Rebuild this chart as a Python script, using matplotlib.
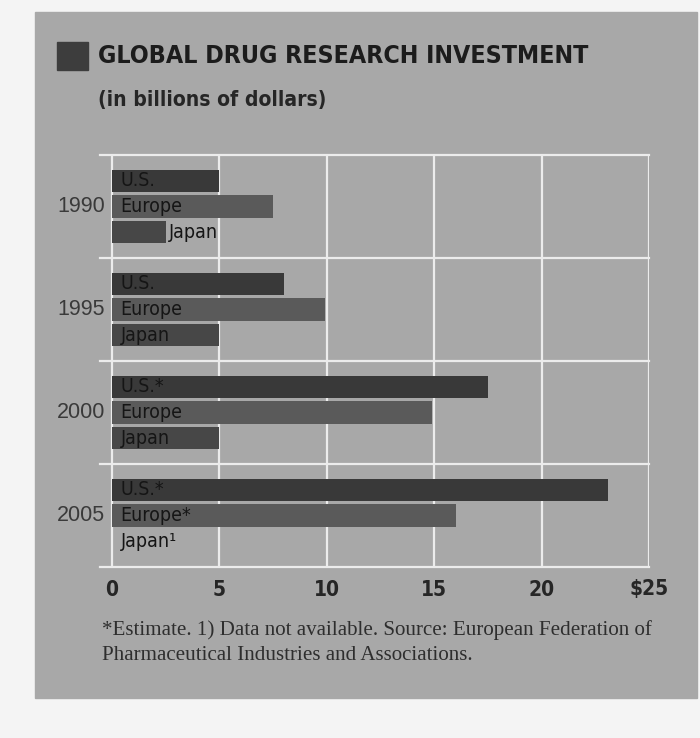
import numpy as np
import matplotlib
import matplotlib.pyplot as plt
from matplotlib.patches import Rectangle
from matplotlib import font_manager
from matplotlib.font_manager import FontProperties

matplotlib.use('Agg')

# investment per region, billions of dollars
years = ['1990', '1995', '2000', '2005']
us = [5.0, 8.0, 17.5, 23.1]
europe = [7.5, 9.9, 14.9, 16.0]
japan = [2.5, 5.0, 5.0, np.nan]  # 2005: data not available

us_labels = ['U.S.', 'U.S.', 'U.S.*', 'U.S.*']
europe_labels = ['Europe', 'Europe', 'Europe', 'Europe*']
japan_labels = ['Japan', 'Japan', 'Japan', 'Japan\u00b9']

xticks = [0, 5, 10, 15, 20, 25]
xtick_labels = ['0', '5', '10', '15', '20', r'\$25']

W, H = 700, 738


def has_font(**kw):
    try:
        path = font_manager.findfont(FontProperties(**kw), fallback_to_default=False)
    except ValueError:
        return None
    return path


# condensed face if one is installed, otherwise plain sans
cpath = has_font(family='DejaVu Sans', stretch='condensed', weight='bold')
if cpath and 'Condensed' in cpath:
    cond = dict(family='DejaVu Sans', fontstretch='condensed')
else:
    cond = dict(family='Liberation Sans')
sans = dict(family='Liberation Sans')
serif = dict(family='Liberation Serif')


def px(x, y):
    # pixel position (from top left) -> figure fraction
    return x / W, 1 - y / H


def fit_width(t, width_px):
    # shrink/grow a text so that it spans width_px
    r = fig.canvas.get_renderer()
    w = t.get_window_extent(r).width
    t.set_fontsize(t.get_fontsize() * width_px / w)


fig = plt.figure(figsize=(W / 100, H / 100), dpi=100)
fig.patch.set_facecolor('#f4f4f4')

# grey panel behind everything
x0, y0 = px(35, 698)
fig.patches.append(Rectangle((x0, y0), (697 - 35) / W, (698 - 12) / H,
                             transform=fig.transFigure, color='#a8a8a8', zorder=-2))

# plot area
left, bottom = px(100, 567)
ax = fig.add_axes([left, bottom, (649 - 100) / W, (567 - 155) / H])
ax.set_facecolor('none')
for s in ax.spines.values():
    s.set_visible(False)
ax.set_xlim(-0.55, 25)
ax.set_ylim(16, 0)

grid_c = '#ececec'
for x in xticks:
    ax.axvline(x, color=grid_c, lw=1.6, zorder=1)
for y in [0, 4, 8, 12, 16]:
    ax.axhline(y, color=grid_c, lw=1.6, zorder=1, clip_on=False)

centers = np.arange(len(years)) * 4 + 2
bh = 0.86
series = [(us, us_labels, -1, '#393939'),
          (europe, europe_labels, 0, '#5a5a5a'),
          (japan, japan_labels, 1, '#474747')]

for vals, labels, off, col in series:
    ypos = centers + off
    ax.barh(ypos, np.nan_to_num(vals), height=bh, color=col, zorder=2)
    for v, lab, y in zip(vals, labels, ypos):
        xt = v + 0.15 if (not np.isnan(v) and v < 3) else 0.4
        ax.text(xt, y, lab, ha='left', va='center', fontsize=14, color='#151515',
                zorder=3, **cond)

for yr, c in zip(years, centers):
    ax.annotate(yr, (0, c), xytext=(-5, 0), textcoords='offset points',
                ha='right', va='center', fontsize=15.5, color='#3a3a3a', **sans)

ax.set_yticks([])
ax.set_xticks(xticks)
ax.set_xticklabels(xtick_labels, fontsize=15, fontweight='bold', color='#262626', **cond)
ax.tick_params(axis='x', length=0, pad=9)

# title block
sx, sy = px(57, 70)
fig.patches.append(Rectangle((sx, sy), 31 / W, 28 / H, transform=fig.transFigure,
                             color='#3d3d3d', zorder=1))
title = fig.text(*px(98, 56), 'GLOBAL DRUG RESEARCH INVESTMENT', ha='left', va='center',
                 fontweight='bold', fontsize=22, color='#1c1c1c', **cond)
sub = fig.text(*px(98, 100), '(in billions of dollars)', ha='left', va='center',
               fontweight='bold', fontsize=18, color='#262626', **cond)

# footnote
note1 = fig.text(*px(102, 630), '*Estimate. 1) Data not available. Source: European Federation of',
                 ha='left', va='center', fontsize=14, color='#2e2e2e', **serif)
note2 = fig.text(*px(102, 656), 'Pharmaceutical Industries and Associations.',
                 ha='left', va='center', fontsize=14, color='#2e2e2e', **serif)

fit_width(title, 490)
fit_width(sub, 228)
fit_width(note1, 550)
note2.set_fontsize(note1.get_fontsize())

fig.savefig('out.png', dpi=100, facecolor=fig.get_facecolor())
